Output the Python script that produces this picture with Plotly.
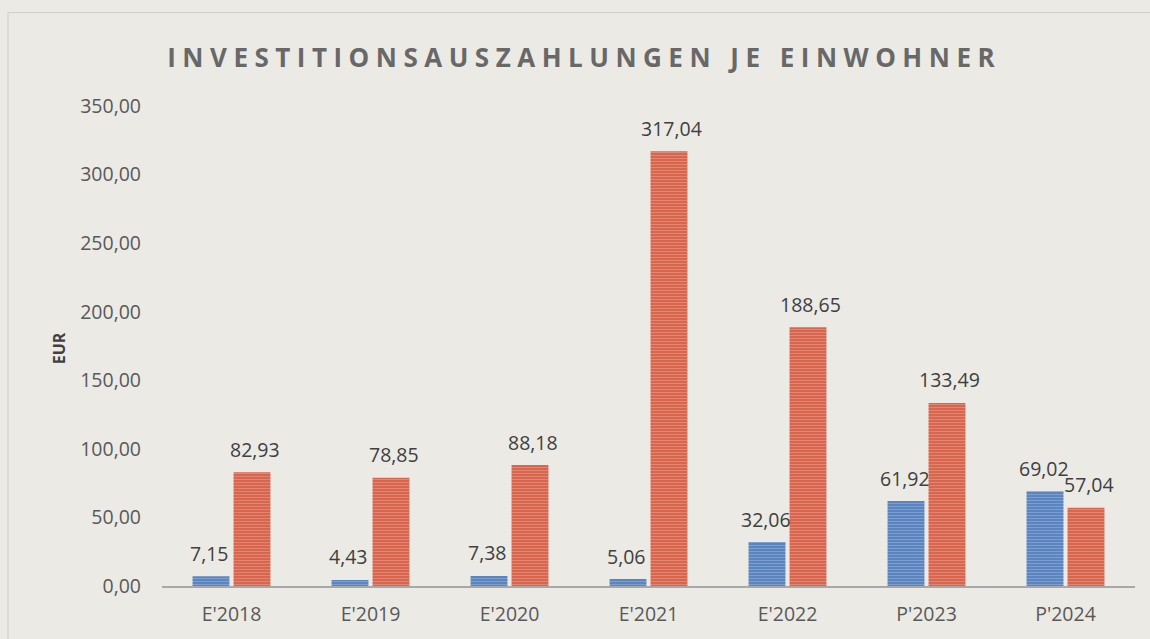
import plotly.graph_objects as go

categories = ["E'2018", "E'2019", "E'2020", "E'2021", "E'2022", "P'2023", "P'2024"]
series_blue = [7.15, 4.43, 7.38, 5.06, 32.06, 61.92, 69.02]
series_red = [82.93, 78.85, 88.18, 317.04, 188.65, 133.49, 57.04]
y_ticks = [0, 50, 100, 150, 200, 250, 300, 350]

title_text = "INVESTITIONSAUSZAHLUNGEN JE EINWOHNER"
y_title = "EUR"

BG = "#ebeae5"
BLUE = "#5b85c0"
BLUE_STRIPE = "#a8bfde"
RED = "#d8654e"
RED_STRIPE = "#efae9f"
FONT = "Open Sans"

fig = go.Figure()
fig.add_trace(go.Bar(
    x=categories, y=series_blue, name="blue",
    marker=dict(color=BLUE, line=dict(width=0),
                pattern=dict(shape="-", fgcolor=BLUE_STRIPE, bgcolor=BLUE, size=3, solidity=0.3)),
))
fig.add_trace(go.Bar(
    x=categories, y=series_red, name="red",
    marker=dict(color=RED, line=dict(width=0),
                pattern=dict(shape="-", fgcolor=RED_STRIPE, bgcolor=RED, size=3, solidity=0.3)),
))

annotations = []
for cat, v in zip(categories, series_blue):
    annotations.append(dict(x=cat, y=v, xref="x", yref="y", text=f"{v:.2f}".replace(".", ","),
                            showarrow=False, xshift=-22, yshift=23, yanchor="middle",
                            font=dict(family=FONT, size=19.5, color="#404040")))
for cat, v in zip(categories, series_red):
    annotations.append(dict(x=cat, y=v, xref="x", yref="y", text=f"{v:.2f}".replace(".", ","),
                            showarrow=False, xshift=23, yshift=23, yanchor="middle",
                            font=dict(family=FONT, size=19.5, color="#404040")))
annotations.append(dict(x=-0.105, y=0.495, xref="paper", yref="paper", text=f"<b>{y_title}</b>",
                        textangle=-90, showarrow=False, xanchor="center", yanchor="middle",
                        font=dict(family=FONT, size=16, color="#404040")))

fig.update_layout(
    width=1150, height=639,
    paper_bgcolor=BG, plot_bgcolor=BG,
    margin=dict(l=162, r=15, t=106, b=50),
    separators=",.",
    showlegend=False,
    barmode="group", bargap=0.41, bargroupgap=0.1,
    title=dict(text=f"<b>{title_text}</b>", x=0.508, xref="container", xanchor="center",
               y=1 - 58 / 639, yref="container", yanchor="middle",
               font=dict(family=FONT, size=26, color="#686868")),
    annotations=annotations,
)
fig.add_shape(type="rect", xref="paper", yref="paper",
              x0=(8 - 162) / 973, x1=(1160 - 162) / 973, y0=(589 - 650) / 483, y1=(589 - 12) / 483,
              line=dict(color="#cfcfca", width=1), layer="below")

fig.update_xaxes(
    showgrid=False, zeroline=False, showline=True, linecolor="#a8a8a8", linewidth=2,
    ticks="", ticklabelstandoff=10,
    tickfont=dict(family=FONT, size=19.5, color="#595959"),
)
fig.update_yaxes(
    range=[0, 350], tickvals=y_ticks, tickformat=".2f",
    showgrid=False, zeroline=False, showline=False, ticks="",
    ticklabelstandoff=20,
    tickfont=dict(family=FONT, size=19.5, color="#595959"),
)

post = ("document.body.style.margin='0';"
        "document.querySelectorAll('.gtitle').forEach(function(e){e.style.letterSpacing='6.5px';});")
fig.write_html("out.html", post_script=post, config={"displayModeBar": False})
